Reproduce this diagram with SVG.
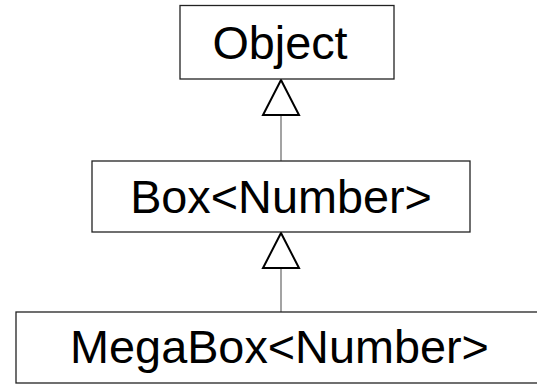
<svg xmlns="http://www.w3.org/2000/svg" width="537" height="384" viewBox="0 0 537 384">
<style>
.box{fill:#fff;stroke:#222;stroke-width:1.3}
.lbl{font-family:"Liberation Sans",Arial,sans-serif;font-size:46.8px;fill:#000;text-anchor:middle}
.edge{stroke:#666;stroke-width:1.2;fill:none}
.head{fill:#fff;stroke:#000;stroke-width:2}
</style>
<rect width="537" height="384" fill="#fff"/>
<g id="connectors">
<line class="edge" x1="281" y1="115" x2="281" y2="161"/>
<polygon class="head" points="281,80 263,115 299,115"/>
<line class="edge" x1="281" y1="268" x2="281" y2="312"/>
<polygon class="head" points="281,233 263,268 299,268"/>
</g>
<g id="object">
<rect class="box" x="180" y="5.5" width="214" height="73.5"/>
<text class="lbl" x="280" y="59">Object</text>
</g>
<g id="box-number">
<rect class="box" x="92" y="161" width="378" height="71"/>
<text class="lbl" x="281" y="213">Box&lt;Number&gt;</text>
</g>
<g id="megabox-number">
<rect class="box" x="16" y="312" width="530" height="71"/>
<text class="lbl" x="279.5" y="363">MegaBox&lt;Number&gt;</text>
</g>
</svg>
